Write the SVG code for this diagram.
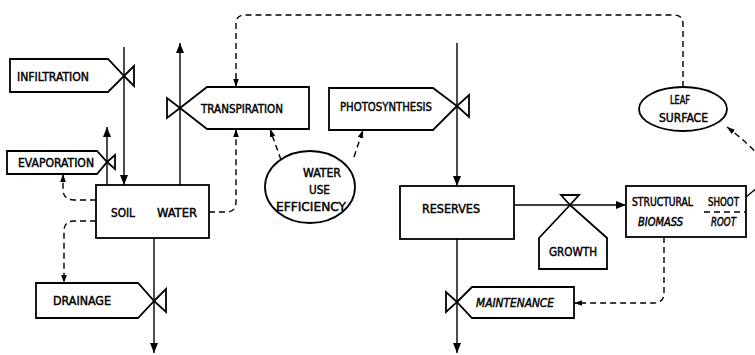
<svg xmlns="http://www.w3.org/2000/svg" width="755" height="355" viewBox="0 0 755 355">
<defs>
<style>
.box{fill:#fff;stroke:#000;stroke-width:1.8;stroke-linejoin:miter}
.valve{fill:#fff;stroke:#000;stroke-width:1.8}
.flow{fill:none;stroke:#000;stroke-width:1.4}
.info{fill:none;stroke:#000;stroke-width:1.4;stroke-dasharray:6 4}
text{font-family:"DejaVu Sans Condensed","DejaVu Sans",sans-serif;font-size:13px;fill:#000;stroke:#000;stroke-width:0.45}
.it{font-style:italic}
.sm{font-size:12px}
</style>
<marker id="ah" viewBox="0 0 10 10" refX="10" refY="5" markerWidth="10" markerHeight="10" orient="auto" markerUnits="userSpaceOnUse"><path d="M0,1 L10,5 L0,9 z" fill="#000"/></marker>
<marker id="dh" viewBox="0 0 10 10" refX="10" refY="5" markerWidth="8" markerHeight="8" orient="auto" markerUnits="userSpaceOnUse"><path d="M0,1.5 L10,5 L0,8.5 z" fill="#000"/></marker>
</defs>
<rect width="755" height="355" fill="#fff"/>

<g id="connectors">
<path class="flow" d="M124,47 L124,185" marker-end="url(#ah)"/>
<path class="flow" d="M107,185 L107,127" marker-end="url(#ah)"/>
<path class="flow" d="M180,185 L180,43" marker-end="url(#ah)"/>
<path class="flow" d="M457,43 L457,186" marker-end="url(#ah)"/>
<path class="flow" d="M154,238 L154,353" marker-end="url(#ah)"/>
<path class="flow" d="M457,239 L457,353" marker-end="url(#ah)"/>
<path class="flow" d="M514,205 L626,205" marker-end="url(#ah)"/>
<path class="info" d="M683,87 L683,24 Q683,15 674,15 L245,15 Q236,15 236,24 L236,87" marker-end="url(#dh)"/>
<path class="info" d="M209,212 L226,212 Q236,212 236,202 L236,129" marker-end="url(#dh)"/>
<path class="info" d="M96,200 L74,200 Q63,200 63,189 L63,174" marker-end="url(#dh)"/>
<path class="info" d="M96,221 L74,221 Q64,221 64,231 L64,283" marker-end="url(#dh)"/>
<path class="info" d="M281,160 L270,129" marker-end="url(#dh)"/>
<path class="info" d="M354,157 L363,130" marker-end="url(#dh)"/>
<path class="info" d="M664,237 L664,293 Q664,303 654,303 L574,303" marker-end="url(#dh)"/>
<path class="flow" d="M746,197 L752,192"/>
<path class="info" d="M752,192 C775,175 770,160 727,127" marker-end="url(#dh)"/>
</g>

<g id="infiltration">
<polygon class="box" points="10,59 108,59 124,76 108,92 10,92"/>
<polygon class="valve" points="124,76 134,66 134,86"/>
<text x="17" y="81" textLength="72" lengthAdjust="spacingAndGlyphs">INFILTRATION</text>
</g>

<g id="evaporation">
<polygon class="box" points="7,151 97,151 107,162 97,174 7,174"/>
<polygon class="valve" points="107,162 115,155 115,169"/>
<text x="18" y="167" textLength="76" lengthAdjust="spacingAndGlyphs">EVAPORATION</text>
</g>

<g id="transpiration">
<polygon class="box" points="180,108 207,87 309,87 309,129 207,129"/>
<polygon class="valve" points="180,108 167,98 167,118"/>
<text x="201" y="113" textLength="82" lengthAdjust="spacingAndGlyphs">TRANSPIRATION</text>
</g>

<g id="photosynthesis">
<polygon class="box" points="329,88 433,88 457,106 433,130 329,130"/>
<polygon class="valve" points="457,106 469,95 469,117"/>
<text x="340" y="111" textLength="92" lengthAdjust="spacingAndGlyphs">PHOTOSYNTHESIS</text>
</g>

<g id="soil-water">
<rect class="box" x="96" y="185" width="113" height="53"/>
<text x="111" y="217" textLength="24" lengthAdjust="spacingAndGlyphs">SOIL</text>
<text x="157" y="217" textLength="40" lengthAdjust="spacingAndGlyphs">WATER</text>
</g>

<g id="drainage">
<polygon class="box" points="36,283 138,283 154,301 138,318 36,318"/>
<polygon class="valve" points="154,301 166,289 166,312"/>
<text x="53" y="305" textLength="58" lengthAdjust="spacingAndGlyphs">DRAINAGE</text>
</g>

<g id="water-use-efficiency">
<ellipse class="box" cx="310" cy="187" rx="45" ry="36"/>
<text x="303" y="177" textLength="38" lengthAdjust="spacingAndGlyphs">WATER</text>
<text x="309" y="194" textLength="21" lengthAdjust="spacingAndGlyphs">USE</text>
<text x="276" y="211" textLength="70" lengthAdjust="spacingAndGlyphs">EFFICIENCY</text>
</g>

<g id="reserves">
<rect class="box" x="400" y="186" width="114" height="53"/>
<text x="422" y="213" textLength="58" lengthAdjust="spacingAndGlyphs">RESERVES</text>
</g>

<g id="maintenance">
<polygon class="box" points="457,302 472,287 574,287 574,318 472,318"/>
<polygon class="valve" points="457,302 446,292 446,312"/>
<text class="it" x="476" y="307" textLength="78" lengthAdjust="spacingAndGlyphs">MAINTENANCE</text>
</g>

<g id="growth">
<polygon class="box" points="570,205 539,238 539,269 607,269 607,238"/>
<polygon class="valve" points="570,205 561,195 579,195"/>
<text x="549" y="256" textLength="48" lengthAdjust="spacingAndGlyphs">GROWTH</text>
</g>

<g id="structural-biomass">
<rect class="box" x="626" y="186" width="120" height="51"/>
<line class="info" x1="704" y1="212" x2="746" y2="212" stroke-dasharray="4 2"/>
<text class="sm" x="632" y="206" textLength="61" lengthAdjust="spacingAndGlyphs">STRUCTURAL</text>
<text class="sm" x="708" y="206" textLength="31" lengthAdjust="spacingAndGlyphs">SHOOT</text>
<text class="sm it" x="638" y="226" textLength="45" lengthAdjust="spacingAndGlyphs">BIOMASS</text>
<text class="sm it" x="711" y="226" textLength="25" lengthAdjust="spacingAndGlyphs">ROOT</text>
</g>

<g id="leaf-surface">
<ellipse class="box" cx="683" cy="109" rx="44" ry="22"/>
<text x="670" y="104" textLength="20" lengthAdjust="spacingAndGlyphs">LEAF</text>
<text x="659" y="122" textLength="49" lengthAdjust="spacingAndGlyphs">SURFACE</text>
</g>
</svg>
